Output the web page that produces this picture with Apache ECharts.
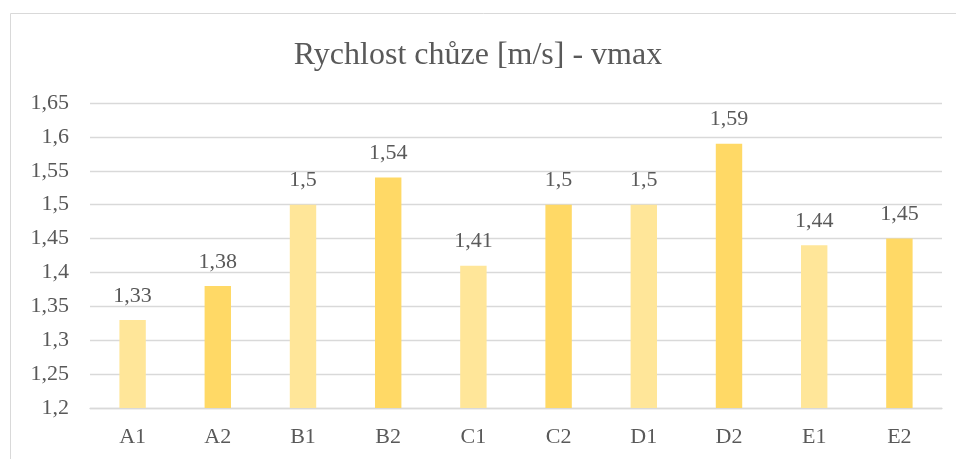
<!DOCTYPE html>
<html>
<head>
<meta charset="utf-8">
<script src="https://cdn.jsdelivr.net/npm/echarts@6/dist/echarts.min.js"></script>
<style>
  html, body { margin: 0; padding: 0; background: #fff; }
  #chart { width: 956px; height: 459px; }
</style>
</head>
<body>
<div id="chart"></div>
<script>
const categories = ['A1', 'A2', 'B1', 'B2', 'C1', 'C2', 'D1', 'D2', 'E1', 'E2'];
const speeds = [1.33, 1.38, 1.5, 1.54, 1.41, 1.5, 1.5, 1.59, 1.44, 1.45];
// light for *1, darker for *2
const barColors = ['#FFE699', '#FFD966'];

const FONT = "'Liberation Serif', 'Times New Roman', serif";
const TEXT = '#595959';

const fmt = (v) => String(parseFloat(Number(v).toFixed(2))).replace('.', ',');

const chart = echarts.init(document.getElementById('chart'));
chart.setOption({
  animation: false,
  textStyle: { fontFamily: FONT },
  graphic: [{
    type: 'rect',
    shape: { x: 10.5, y: 13.5, width: 1000, height: 500 },
    style: { fill: 'none', stroke: '#D9D9D9', lineWidth: 1 },
    silent: true
  }],
  title: {
    text: 'Rychlost chůze [m/s] - vmax',
    left: 'center',
    top: 35,
    textStyle: { fontFamily: FONT, fontSize: 32, fontWeight: 'normal', color: TEXT }
  },
  grid: { left: 90, right: 14, top: 103, bottom: 51 },
  xAxis: {
    type: 'category',
    data: categories,
    axisLine: { lineStyle: { color: '#D9D9D9', width: 1.3 } },
    axisTick: { show: false },
    axisLabel: { color: TEXT, fontFamily: FONT, fontSize: 22, margin: 18 }
  },
  yAxis: {
    type: 'value',
    min: 1.2,
    max: 1.65,
    interval: 0.05,
    axisLine: { show: false },
    axisTick: { show: false },
    splitLine: { lineStyle: { color: '#D9D9D9', width: 1.3 } },
    axisLabel: { color: TEXT, fontFamily: FONT, fontSize: 22, margin: 21, formatter: fmt }
  },
  series: [{
    type: 'bar',
    barWidth: '31%',
    data: speeds.map((v, i) => ({ value: v, itemStyle: { color: barColors[i % 2] } })),
    label: {
      show: true,
      position: 'top',
      distance: 13,
      color: TEXT,
      fontFamily: FONT,
      fontSize: 22,
      formatter: (p) => fmt(p.value)
    }
  }]
});
</script>
</body>
</html>
